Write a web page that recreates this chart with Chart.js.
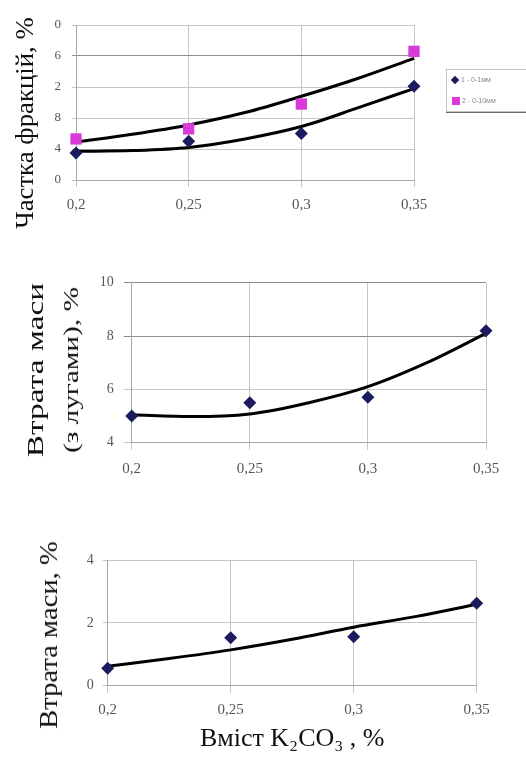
<!DOCTYPE html>
<html>
<head>
<meta charset="utf-8">
<script src="https://cdn.jsdelivr.net/npm/chart.js@4.4.1/dist/chart.umd.min.js"></script>
<style>
  body { margin: 0; background: #fff; width: 526px; height: 758px; overflow: hidden; position: relative; font-family: "Liberation Serif", serif; }
  canvas { position: absolute; left: 0; }
  .ytitle { position: absolute; white-space: nowrap; line-height: 1; color: #111; }
  #legend { position: absolute; left: 446px; top: 69px; width: 92px; height: 41px; border: 1px solid #c4c4c4; box-shadow: 0 1px 0 #666; background: #fff; font: 7px "Liberation Sans", sans-serif; color: #888; }
  #legend .row { position: absolute; left: 5px; height: 10px; line-height: 10px; white-space: nowrap; }
  #legend .mk { display: inline-block; width: 6px; height: 6px; margin-right: 3px; vertical-align: -1px; }
  #legend .diamond { background: #1b1b5e; transform: rotate(45deg); }
  #legend .square { background: #d93bd9; width: 8px; height: 8px; vertical-align: -2px; margin-right: 2px; }
</style>
</head>
<body>
<canvas id="share" width="526" height="225" style="top:0"></canvas>
<canvas id="lossAlkali" width="526" height="250" style="top:240px"></canvas>
<canvas id="loss" width="526" height="258" style="top:500px"></canvas>

<div class="ytitle" data-stretch="1.03" style="left:25px;top:123px;font-size:26px">Частка фракцій, %</div>
<div class="ytitle" data-stretch="1.45" style="left:35px;top:370px;font-size:23px">Втрата маси</div>
<div class="ytitle" data-stretch="1.33" style="left:71px;top:370px;font-size:22px">(з лугами), %</div>
<div class="ytitle" data-stretch="1.1" style="left:49px;top:635px;font-size:26px">Втрата маси, %</div>

<div id="legend">
  <div class="row" style="top:5px"><span class="mk diamond"></span><span id="lg1"></span></div>
  <div class="row" style="top:26px"><span class="mk square"></span><span id="lg2"></span></div>
</div>

<script>
// K2CO3 content, %
const xValues = [0.2, 0.25, 0.3, 0.35];
const xTickLabels = ['0,2', '0,25', '0,3', '0,35'];
// points along the fitted curves
const trendX = [0.2, 0.225, 0.25, 0.275, 0.3, 0.325, 0.35];

// fraction share, %
const share1 = [3.5, 5.0, 6.0, 12.1];
const share2 = [5.3, 6.6, 9.8, 16.6];
const shareTrend1 = [3.7, 3.8, 4.2, 5.3, 6.9, 9.3, 11.8];
const shareTrend2 = [4.9, 5.9, 7.1, 8.7, 10.8, 13.1, 15.7];
const shareTicks = ['0', '4', '8', '2', '6', '0'];
const legendLabels = ['1 - 0-1мм', '2 - 0-10мм'];

// mass loss with alkali, %
const lossAlkali = [5.0, 5.5, 5.7, 8.2];
const lossAlkaliTrend = [5.05, 4.98, 5.08, 5.5, 6.1, 7.0, 8.1];
const lossAlkaliTicks = ['4', '6', '8', '10'];

// mass loss, %
const loss = [0.54, 1.52, 1.55, 2.63];
const lossTrend = [0.6, 0.85, 1.13, 1.47, 1.86, 2.2, 2.6];
const lossTicks = ['0', '2', '4'];

const NAVY = '#1b1b5e';
const MAGENTA = '#d93bd9';

document.getElementById('lg1').textContent = legendLabels[0];
document.getElementById('lg2').textContent = legendLabels[1];

function pairs(xs, ys) {
  return xs.map((x, i) => ({ x: x, y: ys[i] }));
}

function markers(ys, color, style, r) {
  return {
    data: pairs(xValues, ys),
    showLine: false,
    pointStyle: style,
    pointRadius: r,
    backgroundColor: color,
    borderColor: color,
    borderWidth: 0,
    clip: false,
    order: 0
  };
}

function trend(ys) {
  return {
    data: pairs(trendX, ys),
    showLine: true,
    pointRadius: 0,
    borderColor: '#000',
    borderWidth: 3,
    cubicInterpolationMode: 'monotone',
    clip: false,
    order: 1
  };
}

function build(id, o) {
  return new Chart(document.getElementById(id), {
    type: 'scatter',
    data: { datasets: o.datasets },
    options: {
      responsive: false,
      animation: false,
      layout: { padding: { top: o.padTop, right: o.padRight, left: 0, bottom: 0 } },
      plugins: { legend: { display: false }, tooltip: { enabled: false } },
      scales: {
        x: {
          type: 'linear',
          min: 0.2,
          max: 0.35,
          afterBuildTicks: s => { s.ticks = xValues.map(v => ({ value: v })); },
          afterFit: s => { s.height = o.xHeight; },
          grid: { color: '#c6c6c6', tickLength: o.xTick },
          border: { color: '#a8a8a8' },
          ticks: {
            color: '#555',
            font: { family: 'Liberation Serif', size: 15 },
            padding: o.xPad,
            maxRotation: 0,
            autoSkip: false,
            callback: (v, i) => xTickLabels[i]
          },
          title: o.xTitle ? {
            display: true,
            text: o.xTitle,
            color: '#111',
            font: { family: 'Liberation Serif', size: 26 },
            padding: { top: 0, bottom: 3 }
          } : { display: false }
        },
        y: {
          min: o.yMin,
          max: o.yMax,
          afterFit: s => { s.width = o.yWidth; },
          grid: {
            color: ctx => (o.darkGrid.includes(ctx.tick && ctx.tick.value) ? '#8c8c8c' : '#c6c6c6'),
            tickLength: o.yTick
          },
          border: { color: '#a8a8a8' },
          ticks: {
            stepSize: o.yStep,
            color: '#555',
            font: { family: 'Liberation Serif', size: o.yFont },
            padding: o.yPad,
            callback: (v, i) => o.yLabels[i]
          }
        }
      }
    }
  });
}

build('share', {
  datasets: [
    markers(share1, NAVY, 'rectRot', 6.5),
    markers(share2, MAGENTA, 'rect', 8),
    trend(shareTrend1),
    trend(shareTrend2)
  ],
  padTop: 25, padRight: 112,
  xHeight: 45, xTick: 7, xPad: 9,
  yWidth: 76, yTick: 4, yPad: 11, yFont: 13,
  yMin: 0, yMax: 20, yStep: 4, yLabels: shareTicks, darkGrid: [16]
});

build('lossAlkali', {
  datasets: [
    markers(lossAlkali, NAVY, 'rectRot', 6.5),
    trend(lossAlkaliTrend)
  ],
  padTop: 42.7, padRight: 40,
  xHeight: 47.3, xTick: 7, xPad: 10,
  yWidth: 131.7, yTick: 8, yPad: 10, yFont: 14,
  yMin: 4, yMax: 10, yStep: 2, yLabels: lossAlkaliTicks, darkGrid: [8, 10]
});

build('loss', {
  datasets: [
    markers(loss, NAVY, 'rectRot', 6.5),
    trend(lossTrend)
  ],
  padTop: 60.7, padRight: 49.3,
  xHeight: 73, xTick: 8, xPad: 8,
  yWidth: 107.7, yTick: 5, yPad: 9, yFont: 14,
  yMin: 0, yMax: 4, yStep: 2, yLabels: lossTicks, darkGrid: [],
  xTitle: 'Вміст K₂CO₃ , %'
});

// rotated axis titles, stretched along the text line
document.querySelectorAll('.ytitle').forEach(el => {
  el.style.transform = 'translate(-50%, -50%) rotate(-90deg) scaleX(' + el.dataset.stretch + ')';
});
</script>
</body>
</html>
